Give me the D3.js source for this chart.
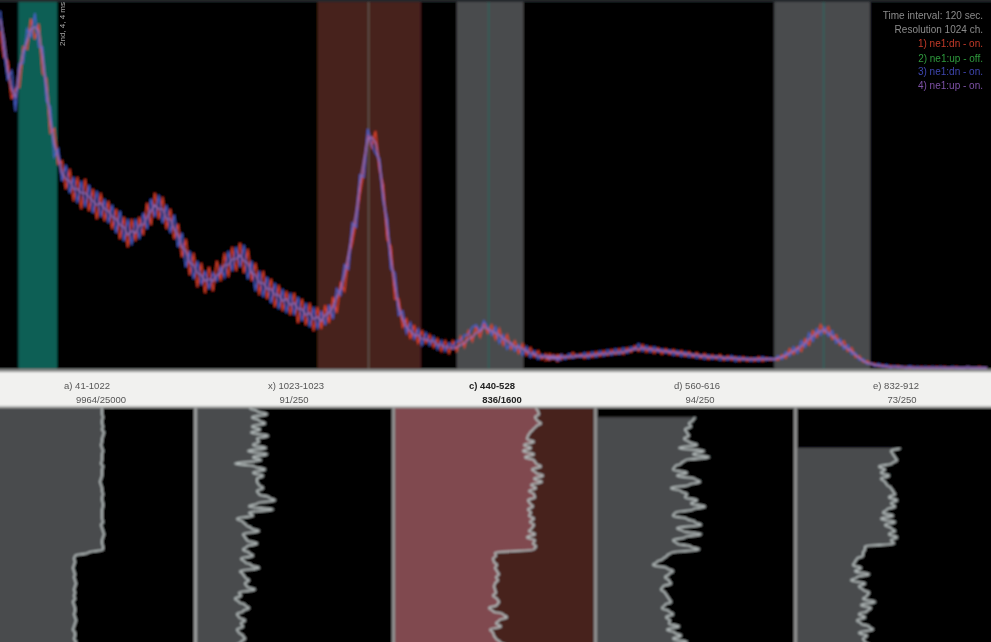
<!DOCTYPE html>
<html><head><meta charset="utf-8">
<script src="https://cdn.jsdelivr.net/npm/d3@7/dist/d3.min.js"></script>
<style>html,body{margin:0;padding:0;background:#000;overflow:hidden}svg{display:block}text{font-family:"Liberation Sans",Arial,sans-serif}</style>
</head><body><div id="chart"></div>
<script>
const redHead=[338,312,308,270,280,282,322,320,350,330,345,296,290,236,240,205,208,180,200,168,192,160,190,158,180,150,176,148,168,140,160,130,152,122,150,128,152,134,166,144,176,150,172,140,160,130,145,112,130,94,116,82,106,76,102,78,108,88,116,92,122,98,126,96,120,88,106,74,98,70,90,62,84,58,78,54,76,46,70,44,66,38,62,40,64,46,72,56,86,78,112,126,148,176,198,236,222,238,200,184,130,122,70,70,42,50,30,44,26,38,26,34,22,30,18,28,16,28,18,32,22,38,28,42,32,46,36,44,30,40,24,34,20,28,16,25,14,21,12,18,10,15,9,14,8,14];
const blueHead=[358,320,290,298,258,305,306,340,332,356,322,322,268,262,212,220,188,204,176,192,166,188,162,184,156,178,152,170,146,164,136,158,128,150,124,150,130,156,140,170,152,174,146,164,136,154,122,136,102,118,90,108,84,98,80,96,88,102,92,118,98,122,102,124,90,108,78,98,72,92,66,86,60,80,56,76,54,72,48,66,42,62,40,58,44,64,50,80,74,104,100,146,142,194,192,240,224,216,210,168,150,100,96,54,58,36,46,30,40,24,36,24,32,20,28,18,26,22,28,28,34,34,42,44,38,48,42,34,42,26,34,20,26,18,24,14,22,12,18,10,14,12,12,13,10,9];
const purpleHead=[350,330,298,280,272,300,318,328,340,342,338,312,282,248,226,212,196,190,188,180,180,176,176,172,168,164,166,160,158,152,150,144,142,134,138,136,144,144,152,158,164,160,160,150,150,140,134,122,118,106,104,96,94,88,90,88,94,96,104,104,110,110,114,108,106,96,94,86,86,80,80,74,74,68,70,64,66,60,60,54,56,50,52,48,54,56,62,72,80,94,114,136,156,186,208,230,232,226,206,174,142,110,84,62,50,42,38,34,34,30,30,28,28,24,24,22,22,20,22,24,26,30,32,36,38,42,40,38,36,34,30,28,26,22,22,20,18,16,15,13,12,12,11,11,11,12];
const redTail=[
 9,15,10,14,10,13,11,16,12,15,
 11,16,12,17,13,18,14,19,15,20,
 15,21,17,23,18,24,17,22,16,21,
 15,20,15,19,14,18,13,17,12,16,
 11,15,10,14,10,14,9,13,9,12,
 8,12,8,11,8,12,8,11,9,10,
 9,14,11,20,15,22,18,30,24,38,
 32,44,36,42,30,34,24,28,18,21,
 12,13,7,8,5,5,3,4,2,3,
 2,3,1,2,1,2,1,2,1,2,
 1,2,1,2,1,1,2,1,1,2,
 1,1,2,1,1];
const blueTail=[
 13,10,13,9,14,10,15,11,14,12,
 16,11,17,12,18,13,19,14,20,15,
 21,16,22,19,25,18,23,17,22,17,
 20,16,19,14,18,13,17,12,15,11,
 14,10,14,10,13,9,12,9,13,8,
 12,9,11,8,11,8,12,9,11,9,
 13,10,17,13,22,16,28,22,36,28,
 40,34,42,33,38,26,30,20,24,15,
 16,9,10,5,6,3,5,2,4,1,
 3,1,2,1,3,1,2,1,2,1,
 2,1,2,1,1,2,1,1,1,2,
 1,1,1,1,1];
const purpleTail=[
 12,11,12,11,12,12,12,12,13,13,
 13,13,14,14,15,15,15,16,16,16,
 17,18,19,20,20,21,20,20,19,19,
 18,18,17,17,16,16,15,15,14,14,
 13,13,12,12,12,12,11,11,11,11,
 10,10,10,10,10,10,10,10,10,10,
 11,12,14,16,18,20,23,26,30,33,
 36,38,39,36,33,30,26,23,20,18,
 14,11,8,6,5,4,3,3,2,2,
 2,2,2,1,1,1,1,1,1,1,
 1,1,1,1,1,1,1,1,1,1,
 1,1,1,1,1];
const panelALabels=["a) 41-1022","x) 1023-1023","c) 440-528","d) 560-616","e) 832-912"];
const panelBLabels=["9964/25000","91/250","836/1600","94/250","73/250"];
const legendLabels=["Time interval: 120 sec.","Resolution 1024 ch.","1) ne1:dn - on.","2) ne1:up - off.","3) ne1:dn - on.","4) ne1:up - on."];
const bandStart=[19,328,472,800];
const bandEnd=[59,435,541,899];
const markerChannels=[381,505,851];
const panelOne=[102,102,102,103,102,102,103,102,104,103,102,102,101,102,103,102,102,102,101,103,102,102,102,101,100,101,102,102,103,102,102,103,103,102,102,102,102,103,101,102,103,104,103,102,102,103,103,88,75,74,75,74,73,74,75,74,75,76,75,74,75,74,75,73,74,75,75,74,75,76,75,74,73,75,75,74,76,75];
const panelTwo=[53,60,70,55,62,68,55,63,54,71,60,62,56,69,51,70,56,64,38,58,68,56,66,60,60,62,66,60,62,72,78,60,52,76,52,56,40,46,49,54,62,46,48,50,60,50,46,52,56,44,48,54,62,43,46,48,52,48,50,58,42,44,38,42,48,52,46,40,42,48,44,46,40,42,46,48,44,40];
const panelThree=[141,143,144,140,142,146,141,138,135,133,132,139,129,136,128,139,130,139,141,146,137,141,148,139,147,136,141,134,139,140,133,135,138,133,136,134,139,135,139,137,134,140,132,140,138,141,139,100,101,98,99,102,100,102,104,101,103,100,99,100,101,98,102,104,102,94,98,108,112,104,101,106,95,98,99,101,105,110];
const panelFour=[null,null,null,98,96,92,94,88,90,92,87,92,100,82,107,96,112,88,84,78,76,90,80,98,103,92,74,84,90,88,100,94,108,96,78,76,90,98,104,80,86,104,88,76,80,94,102,74,70,66,60,56,70,76,72,68,72,74,66,64,68,70,72,74,68,65,72,76,69,73,72,82,70,78,84,76,90,74];
const panelFive=[null,null,null,null,null,null,null,null,null,null,null,null,null,103,94,96,98,100,95,82,88,84,92,84,88,90,94,96,98,92,100,94,98,90,86,96,84,98,88,94,98,92,100,94,97,68,68,66,66,60,58,56,64,58,72,60,54,68,62,66,72,70,66,78,64,74,70,62,68,60,64,72,76,62,70,66,68,72];
const panelValues=[panelOne,panelTwo,panelThree,panelFour,panelFive];
const panelLeft=[0,197,395,597,797];
const panelRight=[193,392,595,795,1001];

const W=991,H=642,mainBottom=369,tailStart=564;
const svg=d3.select("#chart").append("svg").attr("width",W).attr("height",H);
const defs=svg.append("defs");
defs.append("filter").attr("id","soft").attr("filterUnits","userSpaceOnUse").attr("x",-20).attr("y",-20).attr("width",W+40).attr("height",H+40)
  .append("feGaussianBlur").attr("stdDeviation",0.8);
defs.append("filter").attr("id","softText").attr("x","-10%").attr("y","-30%").attr("width","120%").attr("height","160%")
  .append("feGaussianBlur").attr("stdDeviation",0.7);
const root=svg.append("g").attr("filter","url(#soft)");
root.append("rect").attr("x",-20).attr("y",-20).attr("width",W+40).attr("height",H+40).attr("fill","#000");
root.append("rect").attr("x",-20).attr("y",-20).attr("width",W+40).attr("height",22).attr("fill","#22272a");

const x=d3.scaleLinear().domain([0,1024]).range([0,W]);
const y=d3.scaleLinear().domain([0,369]).range([mainBottom,0]);
const bandFill=["#0d5f55","#46201d","#484c4e","#484c4e"];
root.selectAll("rect.band").data(bandStart).join("rect").attr("class","band")
 .attr("x",d=>x(d)).attr("y",2).attr("width",(d,i)=>x(bandEnd[i])-x(d)).attr("height",mainBottom-2)
 .attr("fill",(d,i)=>bandFill[i]);
const markerStroke=["#6e6a60","#1f6a60","#1f6a60"];
root.selectAll("line.marker").data(markerChannels).join("line").attr("class","marker")
 .attr("x1",d=>x(d)).attr("x2",d=>x(d)).attr("y1",2).attr("y2",mainBottom)
 .attr("stroke",(d,i)=>markerStroke[i]).attr("stroke-width",1);
const line=d3.line().x(d=>x(d[0])).y(d=>y(d[1]));
const toPoints=(head,tail)=>head.map((v,i)=>[i*4,v]).concat(tail.map((v,i)=>[tailStart+i*4,v]));
[[redHead,redTail,"#e8432c"],[blueHead,blueTail,"#4a62d0"],[purpleHead,purpleTail,"#9c6fb8"]].forEach(([h,t,c])=>{
  root.append("path").datum(toPoints(h,t)).attr("d",line).attr("fill","none").attr("stroke",c).attr("stroke-width",1.5).attr("opacity",.9);
});
root.append("rect").attr("x",-20).attr("y",369).attr("width",W+40).attr("height",3).attr("fill","#8b8d8c");
root.append("rect").attr("x",-20).attr("y",372).attr("width",W+40).attr("height",35).attr("fill","#f1f1ef");
root.append("rect").attr("x",-20).attr("y",406).attr("width",W+40).attr("height",2).attr("fill","#a9aaa9");

const rowY=d3.scaleLinear().domain([0,77]).range([408,645]);
const countX=d3.scaleLinear().domain([0,100]).range([0,100]);
panelValues.forEach((vals,i)=>{
  const g=root.append("g").attr("transform",`translate(${panelLeft[i]},0)`);
  const w=panelRight[i]-panelLeft[i];
  g.append("rect").attr("x",i===0?-20:0).attr("y",408).attr("width",i===0?w+20:w).attr("height",254).attr("fill",i===2?"#46201d":"#000");
  const defined=d=>d!==null;
  g.append("path").datum(vals).attr("fill",i===2?"#80484f":"#484c4e")
    .attr("d",d3.area().defined(defined).curve(d3.curveBumpY).x0(i===0?-20:0).x1(d=>countX(d)).y((d,k)=>rowY(k)));
  g.append("path").datum(vals).attr("fill","none").attr("stroke","#b4bbbb").attr("stroke-width",1.9)
    .attr("d",d3.line().defined(defined).curve(d3.curveBumpY).x(d=>countX(d)).y((d,k)=>rowY(k)));
  if(i>0)root.append("rect").attr("x",panelLeft[i]-3).attr("y",408).attr("width",3).attr("height",254).attr("fill",i===1?"#9a9c9c":"#8f9090");
});

const textG=svg.append("g").attr("filter","url(#softText)");
const labelCx1=[87,296,492,697,896],labelCx2=[101,294,502,700,902];
textG.selectAll("text.la").data(panelALabels).join("text").attr("class","la")
 .attr("x",(d,i)=>labelCx1[i]).attr("y",389).attr("text-anchor","middle").attr("font-size",9.5)
 .attr("font-weight",(d,i)=>i===2?"bold":"normal").attr("fill",(d,i)=>i===2?"#222":"#555").text(d=>d);
textG.selectAll("text.lb").data(panelBLabels).join("text").attr("class","lb")
 .attr("x",(d,i)=>labelCx2[i]).attr("y",403).attr("text-anchor","middle").attr("font-size",9.5)
 .attr("font-weight",(d,i)=>i===2?"bold":"normal").attr("fill",(d,i)=>i===2?"#222":"#555").text(d=>d);
const legendColors=["#8b8b8b","#8b8b8b","#c43a28","#2f9a3d","#3f46b0","#7f52a8"];
const legendY=[19,33,47,62,75,89];
textG.selectAll("text.lg").data(legendLabels).join("text").attr("class","lg")
 .attr("x",983).attr("y",(d,i)=>legendY[i]).attr("text-anchor","end").attr("font-size",10)
 .attr("fill",(d,i)=>legendColors[i]).text(d=>d);
textG.append("text").attr("transform","translate(65,46) rotate(-90)").attr("font-size",8).attr("fill","#a8a8a8").text("2nd, 4, 4 ms");
</script></body></html>
